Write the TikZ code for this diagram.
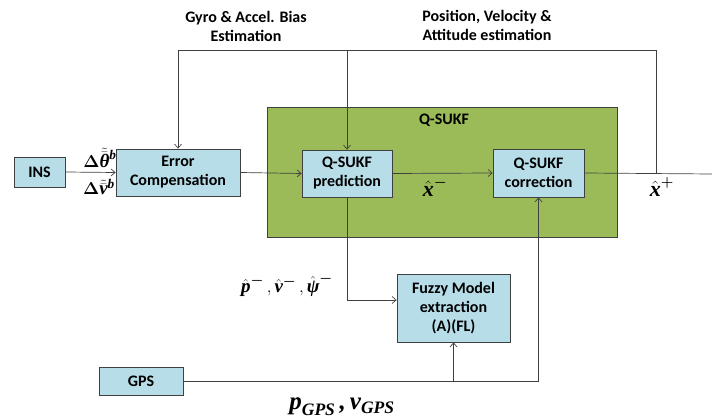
\documentclass[tikz,border=0pt]{standalone}
\usepackage{amsmath,bm}
\usepackage{fontspec}
\setmainfont{Carlito}
\newfontfamily\tms{Liberation Serif}
\newcommand{\tbi}[1]{\text{\tms\bfseries\itshape #1}}
\usetikzlibrary{arrows.meta}
\definecolor{boxblue}{RGB}{183,221,232}
\definecolor{kfgreen}{RGB}{155,187,89}
\definecolor{linegray}{RGB}{64,64,64}
\begin{document}
\begin{tikzpicture}[x=1pt,y=-1pt,
  blk/.style={draw=linegray, fill=boxblue, line width=0.8pt, align=center, inner sep=0pt,
    font=\bfseries\fontsize{16}{19}\selectfont},
  lbl/.style={align=center, inner sep=0pt, font=\bfseries\fontsize{16}{19}\selectfont},
  mth/.style={inner sep=0pt, font=\fontsize{19}{22}\selectfont},
  conn/.style={draw=linegray, line width=0.7pt},
  arr/.style={conn, -{Straight Barb[length=4pt,width=7pt]}}]
\useasboundingbox (0,0) rectangle (712,419);
% green container
\node[draw=linegray, fill=kfgreen, line width=0.8pt, minimum width=350pt, minimum height=130pt, inner sep=0pt] (kf) at (442,172) {};
\node[lbl] (kflabel) at (444,120) {Q-SUKF};
% blocks
\node[blk, minimum width=51pt, minimum height=30pt] (ins) at (39.5,172) {INS};
\node[blk, minimum width=124pt, minimum height=47pt] (ec) at (178,172.5) {Error\\Compensation};
\node[blk, minimum width=90pt, minimum height=47pt] (pred) at (347,173.5) {Q-SUKF\\prediction};
\node[blk, minimum width=91pt, minimum height=48pt] (corr) at (538.5,173) {Q-SUKF\\correction};
\node[blk, minimum width=113pt, minimum height=68pt] (fuzzy) at (453.5,308) {Fuzzy Model\\extraction\\(A)(FL)};
\node[blk, minimum width=84pt, minimum height=28pt] (gps) at (141,381) {GPS};
% top labels
\node[lbl] (gyro) at (246,26) {Gyro \& Accel. Bias\\Estimation};
\node[lbl] (pva) at (487,25) {Position, Velocity \&\\Attitude estimation};
% coordinates
\coordinate (tr) at (656,50);
\coordinate (out) at (712,174);
% connectors
\draw[arr] (ins.east) -- (ec.west);
\draw[arr] (ec.east) -- (pred.west);
\draw[arr] (pred.east) -- (corr.west);
\draw[conn] (corr.east) -- (out);
\draw[arr] (tr |- corr.east) -- (tr) -- (ec.north |- tr) -- (ec.north);
\draw[arr] (pred.north |- tr) -- (pred.north);
\draw[arr] (pred.south) |- ([yshift=8pt]fuzzy.west);
\draw[arr] (gps.east) -- (corr.south |- gps.east) -- (corr.south);
\draw[arr] (fuzzy.south |- gps.east) -- (fuzzy.south);
% math labels
\node[mth] (dth) at (100,158) {$\bm{\Delta}\tilde{\bar{\tbi{θ}}}^{\tbi{b}}$};
\node[mth] (dv) at (99,187) {$\bm{\Delta}\tilde{\bar{\tbi{v}}}^{\tbi{b}}$};
\node[mth, font=\fontsize{22}{24}\selectfont] (xm) at (435,187) {$\hat{\tbi{x}}^{\bm{-}}$};
\node[mth, font=\fontsize{22}{24}\selectfont] (xp) at (662,187) {$\hat{\tbi{x}}^{\bm{+}}$};
\node[mth, font=\fontsize{19}{22}\selectfont] (pvpsi) at (287,285) {$\hat{\tbi{p}}^{\bm{-}}\,,\hat{\tbi{v}}^{\bm{-}}\,,\hat{\tbi{ψ}}^{\bm{-}}$};
\node[mth, font=\fontsize{25}{28}\selectfont] (pgps) at (342,407) {$\tbi{p}_{\tbi{GPS}}\,\tbi{,}\,\tbi{v}_{\tbi{GPS}}$};
\end{tikzpicture}
\end{document}
